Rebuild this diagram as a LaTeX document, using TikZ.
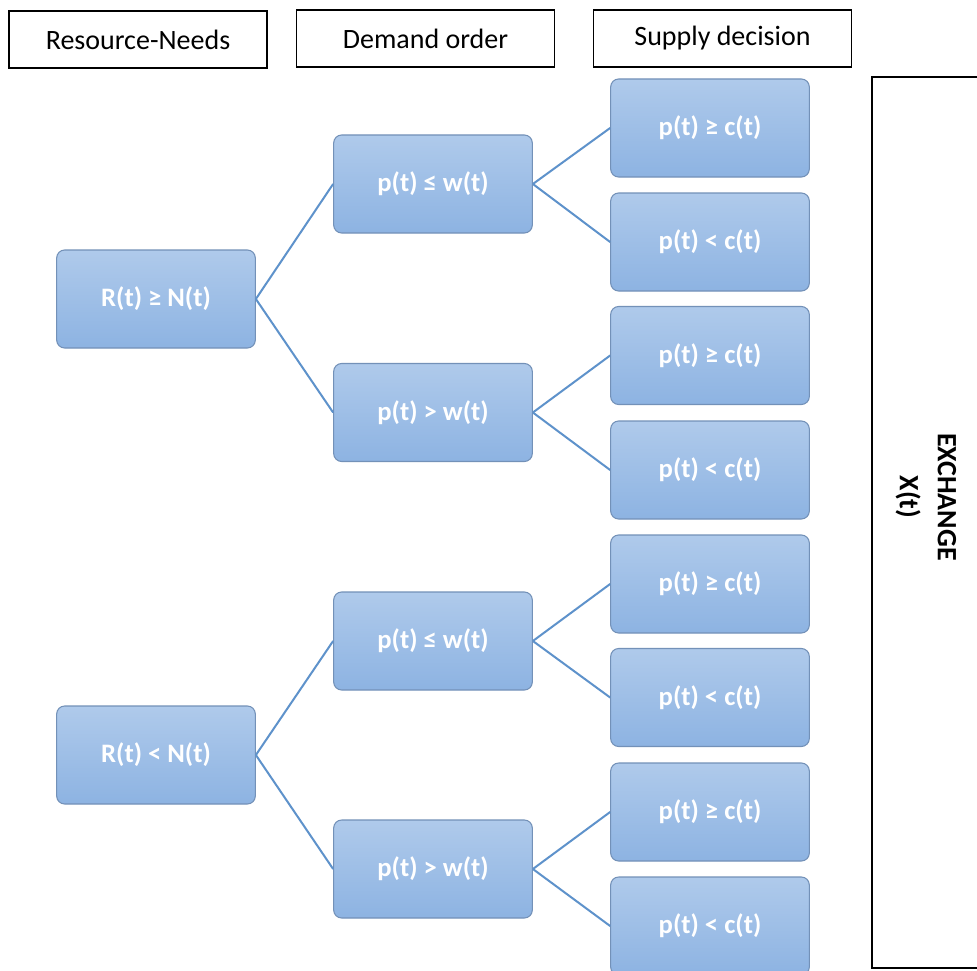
\documentclass[tikz,border=0pt]{standalone}
\usepackage{fontspec}
\setmainfont{Carlito}
\usetikzlibrary{shadings}
\definecolor{topblue}{HTML}{AFCAEB}
\definecolor{botblue}{HTML}{8DB3E2}
\definecolor{edgeblue}{HTML}{7391B8}
\definecolor{linkblue}{HTML}{5E92CB}
\tikzset{
  px/.style={x=0.75pt,y=-0.75pt},
  cond/.style={rectangle, rounded corners=6pt, draw=edgeblue, line width=0.8pt,
    top color=topblue, bottom color=botblue, minimum width=149pt, minimum height=73.5pt,
    text=white, font=\fontsize{20}{24}\selectfont\bfseries, inner sep=0pt},
  header/.style={rectangle, draw=black, line width=0.8pt, fill=white, minimum width=193.5pt,
    minimum height=42.75pt, font=\fontsize{21}{24}\selectfont, inner sep=0pt},
  link/.style={draw=linkblue, line width=1.5pt}
}
\begin{document}
\begin{tikzpicture}[px]
\useasboundingbox (0,0) rectangle (977,970);
\fill[white] (0,0) rectangle (977,970);
\clip (0,0) rectangle (977,970);
% headers
\node[header] (h1) at (138,39.5) {Resource-Needs};
\node[header] (h2) at (425.5,38.5) {Demand order};
\node[header] (h3) at (722.5,38.5) {Supply decision};
% level 1
\node[cond] (a1) at (156,299) {R(t) ≥ N(t)};
\node[cond] (a2) at (156,755) {R(t) < N(t)};
% level 2
\node[cond] (b1) at (433,184) {p(t) ≤ w(t)};
\node[cond] (b2) at (433,412.5) {p(t) > w(t)};
\node[cond] (b3) at (433,641) {p(t) ≤ w(t)};
\node[cond] (b4) at (433,869) {p(t) > w(t)};
% level 3
\node[cond] (c1) at (710,128) {p(t) ≥ c(t)};
\node[cond] (c2) at (710,242) {p(t) < c(t)};
\node[cond] (c3) at (710,355.5) {p(t) ≥ c(t)};
\node[cond] (c4) at (710,470) {p(t) < c(t)};
\node[cond] (c5) at (710,584) {p(t) ≥ c(t)};
\node[cond] (c6) at (710,697.5) {p(t) < c(t)};
\node[cond] (c7) at (710,812) {p(t) ≥ c(t)};
\node[cond] (c8) at (710,926) {p(t) < c(t)};
% links
\foreach \p/\c in {a1/b1,a1/b2,a2/b3,a2/b4,b1/c1,b1/c2,b2/c3,b2/c4,b3/c5,b3/c6,b4/c7,b4/c8}
  \draw[link] (\p.east) -- (\c.west);
% exchange box
\draw[line width=0.8pt, fill=white] (872,77) rectangle (990,968);
\node[rotate=-90, align=center, font=\fontsize{21}{28.5}\selectfont\bfseries, inner sep=0pt] (ex) at (926,497) {EXCHANGE\\X(t)};
\end{tikzpicture}
\end{document}
